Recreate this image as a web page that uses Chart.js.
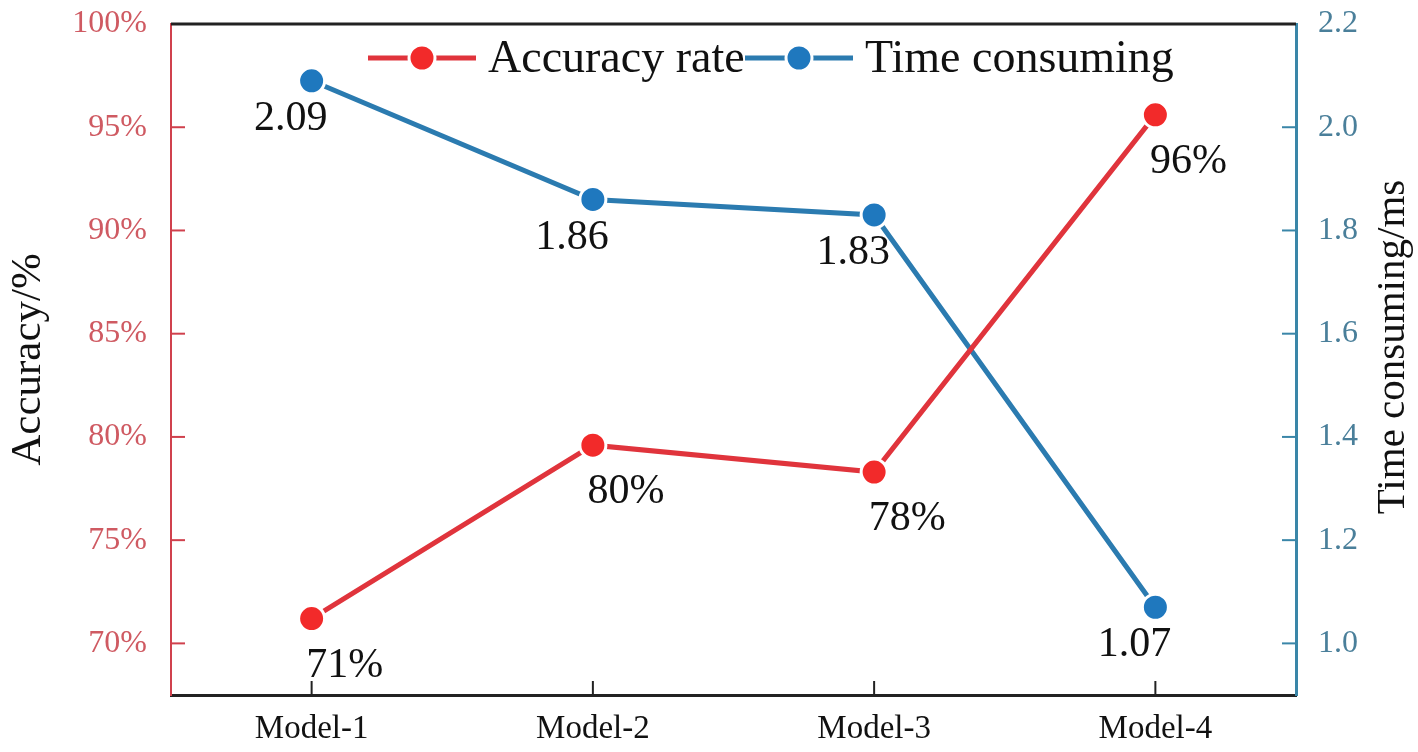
<!DOCTYPE html>
<html>
<head>
<meta charset="utf-8">
<script src="https://cdn.jsdelivr.net/npm/chart.js@4.4.1/dist/chart.umd.min.js"></script>
<style>
  html, body { margin: 0; padding: 0; background: #fff; }
  #wrap { width: 1418px; height: 752px; position: relative; }
</style>
</head>
<body>
<div id="wrap"><canvas id="linechart"></canvas></div>
<script>
const models = ['Model-1', 'Model-2', 'Model-3', 'Model-4'];
const accuracy = [71.2, 79.6, 78.3, 95.6];
const timeMs = [2.09, 1.86, 1.83, 1.07];
const accTicks = [70, 75, 80, 85, 90, 95, 100];
const timeTicks = [1.0, 1.2, 1.4, 1.6, 1.8, 2.0, 2.2];

const serif = "'Liberation Serif', 'DejaVu Serif', serif";
const redLine = '#e0343c', redDot = '#f22a2a';
const blueLine = '#2b7bb0', blueDot = '#1f78be';

// tick marks pointing into the plot, the top frame line, right axis title
const frame = {
  id: 'frame',
  afterDraw(chart) {
    const c = chart.ctx, a = chart.chartArea;
    const s = chart.scales;
    c.save();
    c.lineCap = 'butt';
    c.strokeStyle = '#222'; c.lineWidth = 3;
    c.beginPath(); c.moveTo(a.left, a.top); c.lineTo(a.right, a.top); c.stroke();
    c.lineWidth = 2;
    c.strokeStyle = '#d0414d';
    s.y.ticks.forEach((t, i) => {
      const py = s.y.getPixelForTick(i);
      if (py <= a.top + 2) return;
      c.beginPath(); c.moveTo(a.left, py); c.lineTo(a.left + 14, py); c.stroke();
    });
    c.strokeStyle = '#3a86a8';
    s.y1.ticks.forEach((t, i) => {
      const py = s.y1.getPixelForTick(i);
      if (py <= a.top + 2) return;
      c.beginPath(); c.moveTo(a.right, py); c.lineTo(a.right - 14, py); c.stroke();
    });
    c.strokeStyle = '#222';
    s.x.ticks.forEach((t, i) => {
      const px = s.x.getPixelForTick(i);
      c.beginPath(); c.moveTo(px, a.bottom); c.lineTo(px, a.bottom - 14); c.stroke();
    });
    // right title reads bottom-to-top like the left one
    c.translate(1393, 347);
    c.rotate(-Math.PI / 2);
    c.font = '41px ' + serif;
    c.fillStyle = '#111';
    c.textAlign = 'center';
    c.textBaseline = 'middle';
    c.fillText('Time consuming/ms', 0, 0);
    c.restore();
  }
};

// value labels next to each point
const valueLabels = {
  id: 'valueLabels',
  afterDatasetsDraw(chart) {
    const c = chart.ctx;
    c.save();
    c.font = '42px ' + serif;
    c.fillStyle = '#111';
    c.textAlign = 'center';
    c.textBaseline = 'middle';
    chart.data.datasets.forEach((ds, di) => {
      const meta = chart.getDatasetMeta(di);
      meta.data.forEach((pt, i) => {
        c.fillText(ds.labelFmt(ds.data[i]), pt.x + ds.labelDx, pt.y + ds.labelDy);
      });
    });
    c.restore();
  }
};

// legend drawn inside the plot at the top: line - dot - line, then text
const innerLegend = {
  id: 'innerLegend',
  afterDraw(chart) {
    const c = chart.ctx;
    const y = 58;
    const items = [
      { x: 368, ds: chart.data.datasets[0] },
      { x: 745, ds: chart.data.datasets[1] }
    ];
    c.save();
    c.font = '46px ' + serif;
    c.textBaseline = 'middle';
    items.forEach(it => {
      c.strokeStyle = it.ds.borderColor; c.lineWidth = 5;
      c.beginPath(); c.moveTo(it.x, y); c.lineTo(it.x + 108, y); c.stroke();
      c.fillStyle = it.ds.pointBackgroundColor;
      c.strokeStyle = '#fff'; c.lineWidth = 3;
      c.beginPath(); c.arc(it.x + 54, y, 13, 0, Math.PI * 2); c.fill(); c.stroke();
      c.fillStyle = '#111';
      c.fillText(it.ds.label, it.x + 120, y + 2);
    });
    c.restore();
  }
};

const ctx = document.getElementById('linechart');
const linechart = new Chart(ctx, {
  type: 'line',
  data: {
    labels: models,
    datasets: [{
      label: 'Accuracy rate',
      data: accuracy,
      yAxisID: 'y',
      borderColor: redLine,
      borderWidth: 5,
      pointBackgroundColor: redDot,
      pointBorderColor: '#fff',
      pointBorderWidth: 3,
      pointRadius: 13,
      labelFmt: v => Math.round(v) + '%',
      labelDx: 33, labelDy: 47
    }, {
      label: 'Time consuming',
      data: timeMs,
      yAxisID: 'y1',
      borderColor: blueLine,
      borderWidth: 5,
      pointBackgroundColor: blueDot,
      pointBorderColor: '#fff',
      pointBorderWidth: 3,
      pointRadius: 13,
      labelFmt: v => v.toFixed(2),
      labelDx: -21, labelDy: 38
    }]
  },
  options: {
    responsive: true,
    maintainAspectRatio: false,
    animation: false,
    layout: { padding: { top: 24, left: 0, right: 0, bottom: 0 } },
    plugins: {
      legend: { display: false },
      tooltip: { enabled: false }
    },
    scales: {
      x: {
        offset: true,
        grid: { display: false },
        border: { display: true, color: '#222', width: 3 },
        ticks: { color: '#111', font: { family: serif, size: 33 }, padding: 7 },
        afterFit: s => { s.height = 57; }
      },
      y: {
        position: 'left',
        min: 67.5, max: 100,
        grid: { display: false },
        border: { display: true, color: '#d0414d', width: 2 },
        afterBuildTicks: s => { s.ticks = accTicks.map(v => ({ value: v })); },
        ticks: {
          color: '#cf5a62',
          font: { family: serif, size: 32 },
          padding: 16,
          callback: v => v + '%'
        },
        title: {
          display: true, text: 'Accuracy/%', color: '#111',
          font: { family: serif, size: 43 }, padding: { top: 3, bottom: 0 }
        },
        afterFit: s => { s.width = 171; s.paddingTop = 0; s.paddingBottom = 0; }
      },
      y1: {
        position: 'right',
        min: 0.9, max: 2.2,
        grid: { display: false },
        border: { display: true, color: '#3a86a8', width: 3 },
        afterBuildTicks: s => { s.ticks = timeTicks.map(v => ({ value: v })); },
        ticks: {
          color: '#4a7f9a',
          font: { family: serif, size: 32 },
          padding: 14,
          callback: v => Number(v).toFixed(1)
        },
        afterFit: s => { s.width = 122; s.paddingTop = 0; s.paddingBottom = 0; }
      }
    }
  },
  plugins: [frame, valueLabels, innerLegend]
});
</script>
</body>
</html>
